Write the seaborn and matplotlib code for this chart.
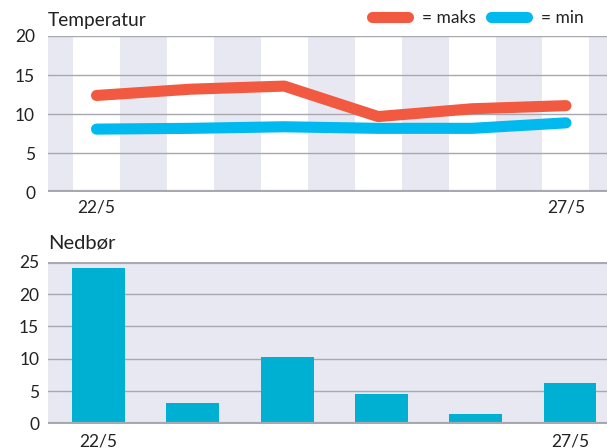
import matplotlib
matplotlib.use("Agg")
import matplotlib.pyplot as plt
from matplotlib.lines import Line2D
import seaborn as sns
import pandas as pd

# ---- data ----
days = ["22/5", "23/5", "24/5", "25/5", "26/5", "27/5"]
temp_max = [12.4, 13.2, 13.6, 9.7, 10.7, 11.1]
temp_min = [8.1, 8.2, 8.4, 8.2, 8.2, 8.9]
precip = [24.0, 3.1, 10.2, 4.6, 1.4, 6.3]
temp_ticks = [0, 5, 10, 15, 20]
precip_ticks = [0, 5, 10, 15, 20, 25]
shown_labels = {0: "22/5", 5: "27/5"}

sns.set_theme(style="white")
plt.rcParams["font.family"] = ["Lato", "DejaVu Sans"]

RED = "#f15a40"
BLUE = "#00b9ee"
BAR = "#00b0d2"
STRIPE = "#e8e8f2"
GRID = "#a8a8b0"
TXT = "#222222"

W, H = 607, 448
fig = plt.figure(figsize=(W / 100, H / 100), dpi=100)

# ---- top: temperature ----
ax1 = fig.add_axes([47.5 / W, 1 - 192.5 / H, (W - 47.5) / W, (192.5 - 36) / H])
idx = list(range(len(days)))
df = pd.DataFrame({"i": idx + idx,
                   "v": temp_max + temp_min,
                   "s": ["maks"] * len(days) + ["min"] * len(days)})
for k in range(-1, len(days)):
    ax1.axvspan(k + 0.25, k + 0.75, color=STRIPE, lw=0, zorder=0)
for t in temp_ticks[1:]:
    ax1.axhline(t, color=GRID, lw=1.0, zorder=1)
ax1.axhline(0, color=GRID, lw=3.0, zorder=1)
sns.lineplot(data=df, x="i", y="v", hue="s", palette={"maks": RED, "min": BLUE},
             lw=8, ax=ax1, legend=False, zorder=3, solid_capstyle="round")
ax1.set_xlim(-0.522, 5.437)
ax1.set_ylim(0, 20)
ax1.set_yticks(temp_ticks)
ax1.set_xticks(list(shown_labels.keys()))
ax1.set_xticklabels(list(shown_labels.values()))
ax1.set_xlabel("")
ax1.set_ylabel("")
for s in ax1.spines.values():
    s.set_visible(False)
ax1.tick_params(axis="both", length=0, labelsize=12.5, colors=TXT)
ax1.tick_params(axis="y", pad=9)
ax1.tick_params(axis="x", pad=5)

handles = [Line2D([], [], color=RED, lw=8, solid_capstyle="round"),
           Line2D([], [], color=BLUE, lw=8, solid_capstyle="round")]
leg = fig.legend(handles, ["= maks", "= min"], ncol=2, frameon=False,
                 loc="center right", bbox_to_anchor=(584 / W, 1 - 18 / H),
                 fontsize=12.5, handlelength=2.1, handletextpad=0.8,
                 columnspacing=0.85, borderpad=0, borderaxespad=0)
for t in leg.get_texts():
    t.set_color(TXT)

fig.text(48 / W, 1 - 26 / H, "Temperatur", fontsize=13.8, color=TXT, va="baseline", ha="left")

# ---- bottom: precipitation ----
ax2 = fig.add_axes([47.5 / W, 1 - 423.5 / H, (W - 47.5) / W, (423.5 - 261.7) / H])
ax2.set_facecolor(STRIPE)
dfp = pd.DataFrame({"d": days, "p": precip})
for t in precip_ticks[1:-1]:
    ax2.axhline(t, color=GRID, lw=1.0, zorder=1)
ax2.axhline(0, color=GRID, lw=3.0, zorder=4)
ax2.axhline(25, color=GRID, lw=3.0, zorder=4)
sns.barplot(data=dfp, x="d", y="p", color=BAR, saturation=1, width=0.56,
            linewidth=0, edgecolor="none", ax=ax2, zorder=3)
ax2.set_xlim(-0.541, 5.392)
ax2.set_ylim(0, 25)
ax2.set_yticks(precip_ticks)
ax2.set_xticks(list(shown_labels.keys()))
ax2.set_xticklabels(list(shown_labels.values()))
ax2.set_xlabel("")
ax2.set_ylabel("")
for s in ax2.spines.values():
    s.set_visible(False)
ax2.tick_params(axis="both", length=0, labelsize=12.5, colors=TXT)
ax2.tick_params(axis="y", pad=6)
ax2.tick_params(axis="x", pad=7)

fig.text(48 / W, 1 - 248 / H, "Nedbør", fontsize=14.5, color=TXT, va="baseline", ha="left")

fig.savefig("out.png", dpi=100)
